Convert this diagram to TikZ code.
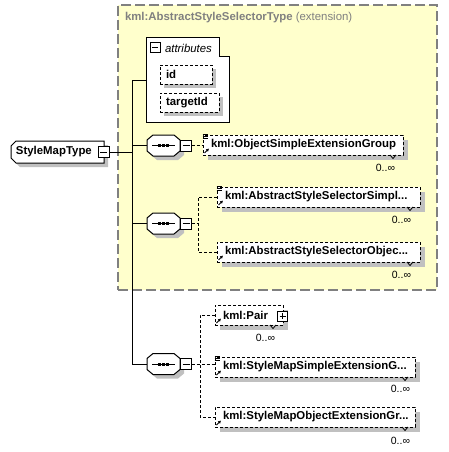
\documentclass[tikz,border=0pt]{standalone}
\usepackage{fontspec}
\setmainfont{Liberation Sans}
\usetikzlibrary{calc,shadows,arrows.meta}
\definecolor{ybg}{RGB}{255,255,204}
\definecolor{shd}{RGB}{192,192,192}
\definecolor{hdr}{RGB}{128,128,128}
\newcommand\fs{\fontsize{11.4}{13}\selectfont}
\newcommand\octpath[3]{($(#1.north west)+(6+#2,#3)$) -- ($(#1.north east)+(-6+#2,#3)$) -- ($(#1.north east)+(#2,5+#3)$) -- ($(#1.south east)+(#2,-5+#3)$) -- ($(#1.south east)+(-6+#2,#3)$) -- ($(#1.south west)+(6+#2,#3)$) -- ($(#1.south west)+(#2,-5+#3)$) -- ($(#1.north west)+(#2,5+#3)$) -- cycle}
\newcommand\octagon[1]{%
  \fill[shd] \octpath{#1}{4}{4};
  \draw[fill=white] \octpath{#1}{0}{0};
  \draw ($(#1.west)+(5,0)$) -- ($(#1.east)+(-5,0)$);
  \foreach \d in {-4,0,4} \fill ($(#1.center)+(\d-1.5,-1.5)$) rectangle ++(3,3);
}
\newcommand\smtpath[3]{($(#1.north west)+(5+#2,#3)$) -- ($(#1.north east)+(#2,#3)$) -- ($(#1.south east)+(#2,#3)$) -- ($(#1.south west)+(5+#2,#3)$) -- ($(#1.south west)+(#2,-5+#3)$) -- ($(#1.north west)+(#2,5+#3)$) -- cycle}
\newcommand\refarrow[1]{%
  \draw[line width=1pt,-{Latex[length=3pt,width=3.5pt]}] ($(#1.south west)+(1.5,-2)$) -- ++(4.5,-4.5);}
\newcommand\simpleicon[1]{%
  \foreach \k in {0,2.2,4.4} \draw[line width=0.8pt] ($(#1.north west)+(-0.5,-1+\k)$) -- ++(5.5,0);}
\newcommand\notch[1]{%
  \draw[line width=0.8pt] ($(#1.south east)+(-13,0)$) -- ++(3,3.5) -- ++(3,-3.5);}

\begin{document}
\begin{tikzpicture}[x=1pt,y=-1pt,line width=1pt,
  every node/.style={inner sep=0pt,outer sep=0pt},
  ph/.style={draw=none,inner sep=0pt},
  extbox/.style={draw=hdr,fill=ybg,line width=1.2pt,dash pattern=on 10pt off 4pt,anchor=north west},
  elem/.style={draw,dash pattern=on 3pt off 2pt,fill=white,anchor=north west,minimum height=20,
    text width=#1,inner xsep=8,inner ysep=0,font=\fs\bfseries,align=left,
    drop shadow={shadow xshift=5pt,shadow yshift=-5pt,fill=shd,opacity=1}},
  attrib/.style={draw,dash pattern=on 3pt off 2pt,fill=white,anchor=north west,minimum height=19,
    text width=#1,inner xsep=6,inner ysep=0,font=\fs\bfseries,align=left,
    drop shadow={shadow xshift=4pt,shadow yshift=-4pt,fill=shd,opacity=1}},
  minusbox/.style={draw,fill=white,minimum size=11,line width=1pt,
    path picture={\draw[line width=1pt] ([xshift=2pt]path picture bounding box.west) -- ([xshift=-2pt]path picture bounding box.east);}},
  plusbox/.style={draw,fill=white,minimum size=10,line width=1pt,
    path picture={\draw[line width=1pt] ([xshift=2pt]path picture bounding box.west) -- ([xshift=-2pt]path picture bounding box.east);
                  \draw[line width=1pt] ([yshift=-2pt]path picture bounding box.north) -- ([yshift=2pt]path picture bounding box.south);}},
  mult/.style={font=\fontsize{10.5}{12}\selectfont,anchor=east},
  dcon/.style={line width=1pt,dash pattern=on 3pt off 2pt},
]
\useasboundingbox (0,0) rectangle (448,452);

% extension container
\node[extbox,minimum width=319,minimum height=285] (ext) at (118,5) {};
\node[anchor=west,font=\fs] (hdrt) at (125,18) {\textcolor{hdr}{\bfseries kml:AbstractStyleSelectorType} \textcolor{hdr}{(extension)}};

% attributes box
\node[ph,minimum width=83,minimum height=84] (attr) at (187.5,80) {};
\draw[fill=white] (attr.north west) -- ($(attr.north east)+(-10,0)$) -- ($(attr.north east)+(-10,19)$) -- ($(attr.north east)+(0,19)$) -- (attr.south east) -- (attr.south west) -- cycle;
\node[minusbox,minimum size=10] (am) at (155,48) {};
\node[anchor=west,font=\fs\itshape] (atl) at (165,48) {attributes};
\node[attrib=40] (aid) at (160,65) {id};
\node[attrib=47] (atid) at (160,93) {targetId};

% root
\node[ph,minimum width=93,minimum height=22] (smt) at (57.5,152) {};
\fill[shd] \smtpath{smt}{4}{4};
\draw[fill=white] \smtpath{smt}{0}{0};
\node[anchor=west,font=\fs\bfseries] (smtt) at (16,152) {StyleMapType};
\node[minusbox] (smtm) at (103.5,152) {};

% sequences
\node[ph,minimum width=33,minimum height=21] (s1) at (163.5,145.5) {};
\node[ph,minimum width=33,minimum height=21] (s2) at (163.5,223.5) {};
\node[ph,minimum width=33,minimum height=21] (s3) at (163.5,364) {};
\octagon{s1}
\octagon{s2}
\octagon{s3}
\node[minusbox] (m1) at (186,145.5) {};
\node[minusbox] (m2) at (186,223.5) {};
\node[minusbox] (m3) at (186,364) {};

% elements
\node[elem=184] (e1) at (203,135) {kml:ObjectSimpleExtensionGroup};
\node[elem=187] (e2) at (217,187) {kml:AbstractStyleSelectorSimpl...};
\node[elem=187] (e3) at (217,242) {kml:AbstractStyleSelectorObjec...};
\node[elem=52] (e4) at (215,305) {kml:Pair};
\node[elem=184] (e5) at (215,357) {kml:StyleMapSimpleExtensionG...};
\node[elem=184] (e6) at (215,407) {kml:StyleMapObjectExtensionGr...};
\node[plusbox] (p4) at (282.5,316) {};

\foreach \e in {e1,e2,e3,e4,e5,e6} {\refarrow{\e}\notch{\e}}
\foreach \e in {e1,e2,e5} {\simpleicon{\e}}

\node[mult] (u1) at ($(e1.south east)+(-8,13)$) {0..∞};
\node[mult] (u2) at ($(e2.south east)+(-9,13)$) {0..∞};
\node[mult] (u3) at ($(e3.south east)+(-9,13)$) {0..∞};
\node[mult] (u4) at ($(e4.south east)+(-8,13)$) {0..∞};
\node[mult] (u5) at ($(e5.south east)+(-5,12)$) {0..∞};
\node[mult] (u6) at ($(e6.south east)+(-5,14)$) {0..∞};

% solid connectors
\coordinate (top) at (132,80);
\draw (attr.west |- top) -- (top) -- (top |- s3.west) -- (s3.west);
\draw (smtm.east) -- (smtm.east -| top);
\draw (s1.west -| top) -- (s1.west);
\draw (s2.west -| top) -- (s2.west);

% dashed connectors
\draw[dcon] (m1.east) -- (m1.east -| e1.west);
\coordinate (v2) at (198,0);
\draw[dcon] (m2.east) -- (m2.east -| v2);
\draw[dcon] (e2.west) -- (v2 |- e2.west) -- (v2 |- e3.west) -- (e3.west);
\coordinate (v3) at (200,0);
\draw[dcon] (m3.east) -- (m3.east -| e5.west);
\draw[dcon] (e4.west) -- (v3 |- e4.west) -- (v3 |- e6.west) -- (e6.west);
\end{tikzpicture}
\end{document}
